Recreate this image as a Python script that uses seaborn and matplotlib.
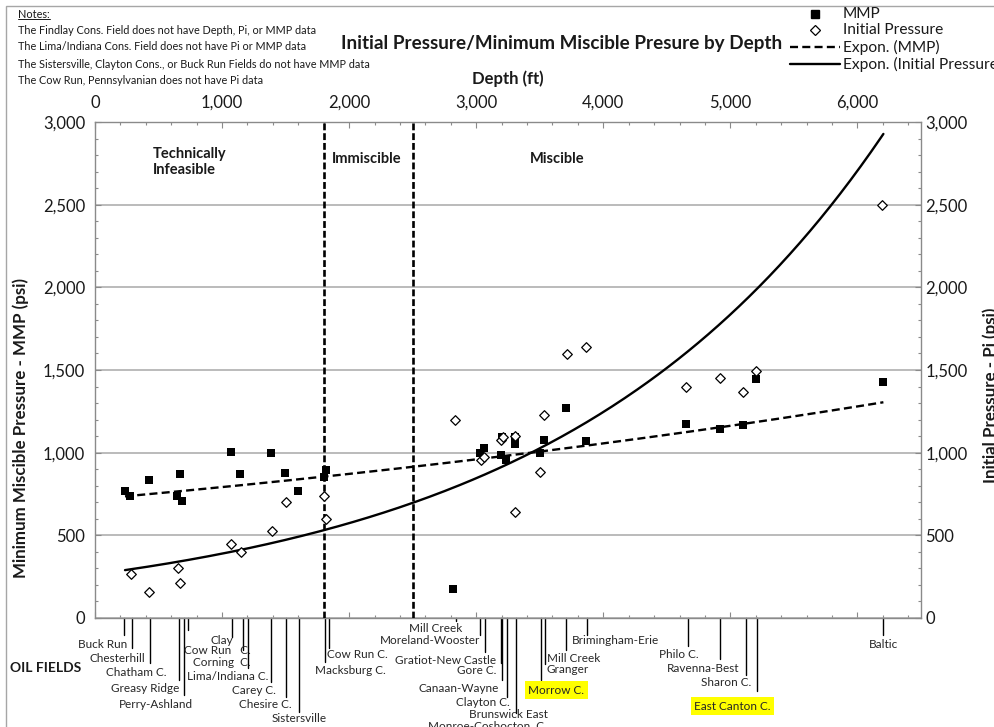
import numpy as np
import pandas as pd
import matplotlib
matplotlib.use("Agg")
import matplotlib.pyplot as plt
import seaborn as sns
from matplotlib.lines import Line2D
from matplotlib.patches import Rectangle
from matplotlib.ticker import MultipleLocator, FuncFormatter

# ---------------- data ----------------
mmp_depth = [236, 275, 425, 668, 642, 682, 1069, 1140, 1384, 1494, 1596, 1816, 1801,
             2821, 3027, 3059, 3193, 3206, 3237, 3303, 3303, 3499, 3531, 3709, 3861,
             4653, 4915, 5103, 5203, 6204]
mmp_psi = [770, 740, 837, 871, 736, 710, 1004, 871, 998, 877, 770, 895, 851,
           177, 996, 1030, 988, 1093, 958, 1097, 1053, 1000, 1077, 1272, 1073,
           1174, 1145, 1168, 1446, 1430]

pi_depth = [281, 425, 650, 668, 1072, 1146, 1389, 1500, 1801, 1816,
            2829, 3035, 3059, 3198, 3211, 3303, 3303, 3505, 3533, 3714, 3861,
            4653, 4920, 5103, 5203, 6196]
pi_psi = [264, 155, 301, 214, 448, 401, 524, 700, 740, 599,
          1198, 956, 976, 1077, 1097, 1101, 643, 883, 1226, 1595, 1641,
          1396, 1454, 1369, 1496, 2498]

field_names = ["Buck Run", "Chesterhill", "Chatham C.", "Greasy Ridge", "Perry-Ashland",
               "Cow Run   C.", "Clay", "Corning  C.", "Lima/Indiana C.", "Carey C.",
               "Chesire C.", "Sistersville", "Macksburg C.", "Cow Run C.",
               "Mill Creek", "Moreland-Wooster", "Gratiot-New Castle", "Gore C.",
               "Canaan-Wayne", "Clayton C.", "Brunswick East", "Monroe-Coshocton  C.",
               "Morrow C.", "Mill Creek\nGranger", "", "Brimingham-Erie",
               "Philo C.", "Ravenna-Best", "Sharon C.", "East Canton C.", "Baltic"]
field_depths = [228, 289, 432, 662, 700, 731, 1077, 1164, 1205, 1382, 1500, 1604,
                1809, 1840, 2844, 3033, 3067, 3192, 3205, 3245, 3316, 3300,
                3512, 3538, 3709, 3874, 4663, 4920, 5119, 5206, 6204]

region_bounds = [1800, 2500]
region_labels = ["Technically\nInfeasible", "Immiscible", "Miscible"]
region_label_x = [456, 1864, 3421]

notes = ["The Findlay Cons. Field does not have Depth, Pi, or MMP data",
         "The Lima/Indiana Cons. Field does not have Pi or MMP data",
         "The Sistersville, Clayton Cons., or Buck Run Fields do not have MMP data",
         "The Cow Run, Pennsylvanian does not have Pi data"]

legend_labels = ["MMP", "Initial Pressure", "Expon. (MMP)", "Expon. (Initial Pressure)"]

# label layout: (leader length px, text dx px, text dy px, ha, highlight)
label_layout = [
    (17, 3, -26, "right", False), (30, 14, -41, "right", False),
    (45, 17, -55, "right", False), (62, 0, -71, "right", False),
    (77, 9, -86, "right", False), (12, -4, -33, "left", False),
    (19, 1, -22, "right", False), (32, -50, -44, "left", False),
    (50, 20, -58, "right", False), (64, 5, -72, "right", False),
    (79, 6, -86, "right", False), (94, 28, -100, "right", False),
    (44, 61, -53, "right", False), (30, -2, -36, "left", False),
    (3, 6, -10, "right", False), (17, 0, -23, "right", False),
    (34, 11, -42, "right", False), (45, -4, -53, "right", False),
    (62, -3, -71, "right", False), (79, 2, -84, "right", False),
    (95, 31, -97, "right", False), (0, 32, -108, "right", False),
    (62, 15, -72, "center", True), (46, 2, -46, "left", False),
    (32, 0, 0, "left", False), (17, -15, -23, "left", False),
    (28, 11, -37, "right", False), (41, 19, -50, "right", False),
    (57, 6, -64, "right", False), (73, -24, -88, "center", True),
    (17, 0, -26, "center", False),
]

# ---------------- style ----------------
sns.set_theme(style="white")
plt.rcParams["font.family"] = ["Lato", "DejaVu Sans"]
TXT = "#1a1a1a"
GRAY = "#8a8a8a"

W, H = 994, 727
fig = plt.figure(figsize=(W / 100, H / 100), dpi=100)
L, R, T, B = 95, 921, 122, 618
ax = fig.add_axes([L / W, 1 - B / H, (R - L) / W, (B - T) / H])
ax_h_px = B - T

mmp_df = pd.DataFrame({"depth": mmp_depth, "psi": mmp_psi})
pi_df = pd.DataFrame({"depth": pi_depth, "psi": pi_psi})

sns.scatterplot(data=mmp_df, x="depth", y="psi", marker="s", s=34, color="black",
                edgecolor="black", linewidth=0, ax=ax, zorder=5, legend=False)
sns.scatterplot(data=pi_df, x="depth", y="psi", marker="D", s=24, color="white",
                edgecolor="black", linewidth=0.9, ax=ax, zorder=5, legend=False)

# exponential trendlines (least squares on log values, as Excel does)
xmin = min(min(mmp_depth), min(pi_depth))
xmax = max(max(mmp_depth), max(pi_depth))
xs = np.linspace(xmin, xmax, 300)
b1, a1 = np.polyfit(mmp_depth, np.log(mmp_psi), 1)
b2, a2 = np.polyfit(pi_depth, np.log(pi_psi), 1)
ax.plot(xs, np.exp(a1 + b1 * xs), color="black", lw=1.7, dashes=(3.4, 1.8), zorder=4)
ax.plot(xs, np.exp(a2 + b2 * xs), color="black", lw=1.7, zorder=4)

for xv in region_bounds:
    ax.axvline(xv, color="black", lw=1.9, dashes=(2.6, 1.1), zorder=3)

ax.set_xlim(0, 6500)
ax.set_ylim(0, 3000)
ax.set_xlabel("")
ax.set_ylabel("")
fmt = FuncFormatter(lambda v, p: f"{int(v):,}")
ax.xaxis.set_major_locator(MultipleLocator(1000))
ax.xaxis.set_minor_locator(MultipleLocator(200))
ax.yaxis.set_major_locator(MultipleLocator(500))
ax.yaxis.set_minor_locator(MultipleLocator(100))
ax.xaxis.set_major_formatter(fmt)
ax.yaxis.set_major_formatter(fmt)
ax.tick_params(axis="x", which="both", top=True, bottom=True, labeltop=True,
               labelbottom=False, direction="in", colors=GRAY, labelcolor=TXT)
ax.tick_params(axis="y", which="both", left=True, right=True, labelleft=True,
               labelright=False, direction="in", colors=GRAY, labelcolor=TXT)
ax.tick_params(which="major", length=4.5, width=0.8, labelsize=12)
ax.tick_params(which="minor", length=2.5, width=0.8)
ax.tick_params(axis="x", pad=8)
ax.tick_params(axis="y", pad=7)
ax.yaxis.grid(True, which="major", color="#a8a8a8", lw=1.1)
ax.xaxis.grid(False)
ax.set_axisbelow(True)
for s in ax.spines.values():
    s.set_color(GRAY)
    s.set_linewidth(1)

# right-hand pressure axis (same scale)
ax2 = ax.twinx()
ax2.set_ylim(ax.get_ylim())
ax2.yaxis.set_major_locator(MultipleLocator(500))
ax2.yaxis.set_minor_locator(MultipleLocator(100))
ax2.yaxis.set_major_formatter(fmt)
ax2.tick_params(axis="y", which="both", direction="in", colors=GRAY, labelcolor=TXT)
ax2.tick_params(which="major", length=4.5, width=0.8, labelsize=12, pad=3)
ax2.tick_params(which="minor", length=2.5, width=0.8)
ax2.grid(False)
for s in ax2.spines.values():
    s.set_visible(False)

# region labels
for lab, xv in zip(region_labels, region_label_x):
    ax.text(xv, 1 - (159 - T) / ax_h_px if "\n" not in lab else 1 - (162 - T) / ax_h_px,
            lab, transform=ax.get_xaxis_transform(), ha="left", va="center",
            fontsize=10.5, fontweight="bold", color=TXT, linespacing=1.1)

# oil field leader lines and labels
xtrans = ax.get_xaxis_transform()
for name, d, (ln, dx, dy, ha, hl) in zip(field_names, field_depths, label_layout):
    if ln > 0:
        ax.add_line(Line2D([d, d], [0, -ln / ax_h_px], transform=xtrans,
                           color="black", lw=1.0, clip_on=False, zorder=2))
    if name:
        kw = {}
        if hl:
            kw["bbox"] = dict(boxstyle="square,pad=0.28", fc="#ffff00", ec="none")
        ax.annotate(name, xy=(d, 0), xycoords=("data", "axes fraction"),
                    xytext=(dx, dy), textcoords="offset pixels", ha=ha, va="center",
                    fontsize=8.5, color="#262626", annotation_clip=False,
                    linespacing=1.05, zorder=6, **kw)

# figure texts
fig.text(562 / W, 1 - 43 / H, "Initial Pressure/Minimum Miscible Presure by Depth",
         ha="center", va="center", fontsize=13.6, fontweight="bold", color=TXT)
fig.text((L + R) / 2 / W, 1 - 79 / H, "Depth (ft)", ha="center", va="center",
         fontsize=12, fontweight="bold", color=TXT)
fig.text(21 / W, 1 - 428 / H, "Minimum Miscible Pressure - MMP (psi)", rotation=90,
         ha="center", va="center", fontsize=12.2, fontweight="bold", color=TXT)
fig.text(982 / W, 1 - 395 / H, "Initial Pressure - Pi (psi)", rotation=90,
         ha="left", va="center", fontsize=12.2, fontweight="bold", color=TXT)
fig.text(10 / W, 1 - 668 / H, "OIL FIELDS", ha="left", va="center",
         fontsize=10, fontweight="bold", color=TXT)

note_head = fig.text(18 / W, 1 - 14 / H, "Notes:", ha="left", va="center",
                     fontsize=7.8, color=TXT)
for i, n in enumerate(notes):
    fig.text(18 / W, 1 - (30 + 17 * i) / H, n, ha="left", va="center",
             fontsize=7.8, color=TXT)

# legend (drawn manually, clipped at the right edge like the reference)
leg_y = [14, 30, 47, 64]
ft = fig.transFigure
fig.add_artist(Line2D([815 / W], [1 - leg_y[0] / H], transform=ft, marker="s",
                      ms=6, color="black", ls="none"))
fig.add_artist(Line2D([815 / W], [1 - leg_y[1] / H], transform=ft, marker="D",
                      ms=5.2, mfc="white", mec="black", mew=0.9, ls="none"))
fig.add_artist(Line2D([790 / W, 840 / W], [1 - leg_y[2] / H] * 2, transform=ft,
                      color="black", lw=1.7, dashes=(3.4, 1.8)))
fig.add_artist(Line2D([790 / W, 840 / W], [1 - leg_y[3] / H] * 2, transform=ft,
                      color="black", lw=1.7))
for yv, t in zip(leg_y, legend_labels):
    fig.text(843 / W, 1 - yv / H, t, ha="left", va="center", fontsize=11.2, color=TXT)

# chart-area border
fig.add_artist(Rectangle((6 / W, -0.5), 2, (1 - 6 / H) + 0.5, transform=ft,
                         fill=False, ec="#a6a6a6", lw=1))

# underline for "Notes:"
fig.canvas.draw()
bb = note_head.get_window_extent(fig.canvas.get_renderer())
fig.add_artist(Line2D([bb.x0 / W, bb.x1 / W], [(bb.y0 + 0.5) / H] * 2, transform=ft,
                      color=TXT, lw=0.7))

fig.savefig("out.png", dpi=100)
